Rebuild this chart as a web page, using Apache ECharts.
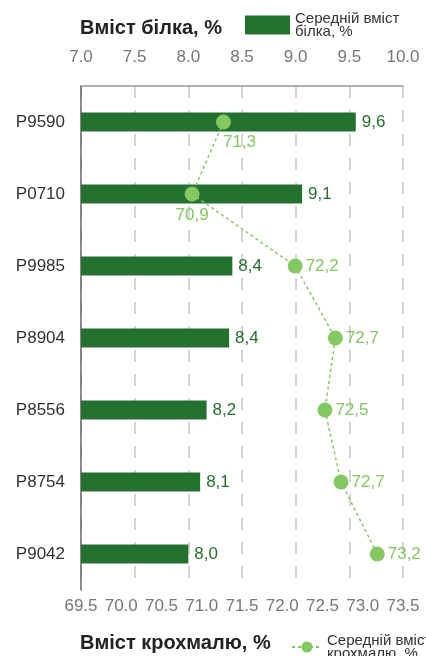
<!DOCTYPE html>
<html>
<head>
<meta charset="utf-8">
<script src="https://cdn.jsdelivr.net/npm/echarts@6/dist/echarts.min.js"></script>
<style>
  html, body { margin: 0; padding: 0; background: #fff; }
  #chart { width: 426px; height: 656px; }
</style>
</head>
<body>
<div id="chart"></div>
<script>
const categories = ["P9590", "P0710", "P9985", "P8904", "P8556", "P8754", "P9042"];
const protein = [9.56, 9.06, 8.41, 8.38, 8.17, 8.11, 8.0];
const starch = [71.27, 70.88, 72.16, 72.66, 72.53, 72.73, 73.18];

const barColor = "#24702f";
const dotColor = "#84c862";
const font = "Liberation Sans, Arial, sans-serif";
const comma = (v) => v.toFixed(1).replace(".", ",");

// first two labels sit under the dot, the rest to the right
const starchLabels = [
  { position: "bottom", offset: [16, 1] },
  { position: "bottom", offset: [0, 2] },
  { position: "right" }, { position: "right" }, { position: "right" },
  { position: "right" }, { position: "right" },
];

const chart = echarts.init(document.getElementById("chart"));
chart.setOption({
  animation: false,
  textStyle: { fontFamily: font },
  title: [
    { text: "Вміст білка, %", left: 75, top: 13,
      textStyle: { fontSize: 20, fontWeight: "bold", color: "#222", fontFamily: font } },
    { text: "Вміст крохмалю, %", left: 75, top: 628,
      textStyle: { fontSize: 20, fontWeight: "bold", color: "#222", fontFamily: font } },
  ],
  legend: [
    { data: ["Середній вміст\nбілка, %"], left: 240, top: 6, icon: "rect",
      itemWidth: 45, itemHeight: 19, itemGap: 8,
      textStyle: { fontSize: 15, lineHeight: 13, color: "#333", fontFamily: font } },
    { data: ["Середній вміст\nкрохмалю, %"], left: 286, top: 628, itemWidth: 30, itemHeight: 14,
      textStyle: { fontSize: 15, lineHeight: 13, color: "#333", fontFamily: font } },
  ],
  grid: { left: 81, right: 23, top: 86, bottom: 66 },
  xAxis: [
    {
      type: "value", position: "top", min: 7, max: 10, interval: 0.5,
      axisLine: { show: true, lineStyle: { color: "#999", width: 1.5 } },
      axisTick: { show: false },
      axisLabel: { margin: 20, fontSize: 17, color: "#777", formatter: (v) => v.toFixed(1) },
      splitLine: { show: true, lineStyle: { color: "#c8c8c8", width: 1.5, type: [12, 12] } },
    },
    {
      type: "value", position: "bottom", min: 69.5, max: 73.5, interval: 0.5,
      axisLine: { show: false },
      axisTick: { show: false },
      axisLabel: { margin: 8, fontSize: 17, color: "#777", formatter: (v) => v.toFixed(1) },
      splitLine: { show: false },
    },
  ],
  yAxis: {
    type: "category", inverse: true, data: categories,
    axisLine: { show: true, lineStyle: { color: "#666", width: 1.5 } },
    axisTick: { show: false },
    axisLabel: { margin: 16, fontSize: 17, color: "#333" },
  },
  series: [
    {
      name: "Середній вміст\nбілка, %",
      type: "bar", xAxisIndex: 0, barWidth: 19,
      data: protein,
      itemStyle: { color: barColor },
      label: { show: true, position: "right", distance: 6, fontSize: 17, color: barColor,
        formatter: (p) => comma(p.value) },
    },
    {
      name: "Середній вміст\nкрохмалю, %",
      type: "line", xAxisIndex: 1, z: 5,
      symbol: "circle", symbolSize: 15,
      data: starch.map((v, i) => ({ value: [v, categories[i]], label: starchLabels[i] })),
      itemStyle: { color: dotColor },
      lineStyle: { color: dotColor, width: 1.5, type: [3, 3] },
      label: { show: true, distance: 3, fontSize: 17, color: dotColor,
        formatter: (p) => comma(p.value[0]) },
    },
  ],
});
</script>
</body>
</html>
